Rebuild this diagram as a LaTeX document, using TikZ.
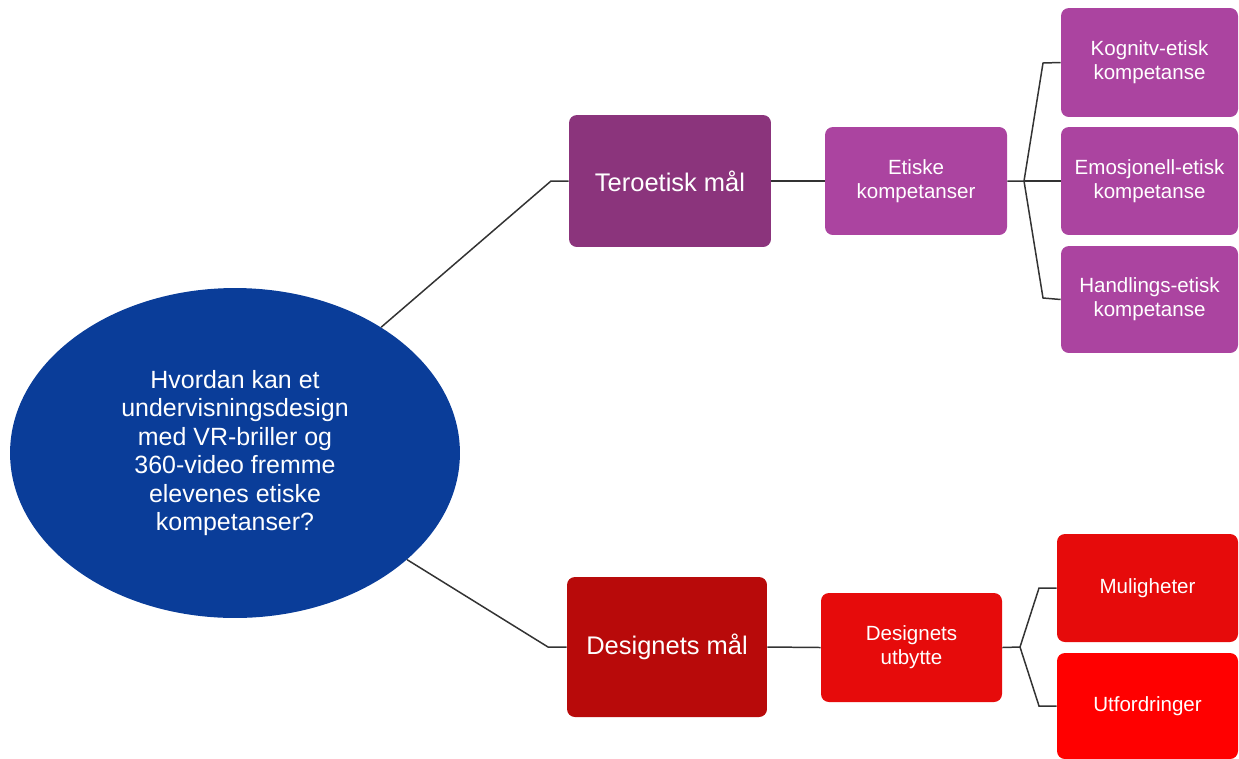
\documentclass[tikz,border=0pt]{standalone}
\usepackage{fontspec}
\setmainfont{Liberation Sans}
\usetikzlibrary{shapes.geometric}
\definecolor{ellblue}{HTML}{0A3D99}
\definecolor{purpdark}{HTML}{8B347C}
\definecolor{purp}{HTML}{AB44A0}
\definecolor{reddark}{HTML}{B80A0A}
\definecolor{redmid}{HTML}{E60B0B}
\definecolor{redbright}{HTML}{FF0000}
\definecolor{linegray}{HTML}{333333}
\tikzset{
  box/.style={rectangle, rounded corners=4.5pt, draw=none, text=white, align=center, inner sep=0pt},
  bigtxt/.style={font=\fontsize{14.5}{16}\selectfont},
  smalltxt/.style={font=\fontsize{11.7}{13.6}\selectfont},
  conn/.style={draw=linegray, line width=0.85pt}
}
\begin{document}
\begin{tikzpicture}[x=0.02cm, y=-0.02cm]
\useasboundingbox (0,0) rectangle (1239,758);
% root
\node[ellipse, fill=ellblue, minimum width=9cm, minimum height=6.6cm, inner sep=0pt, text=white, align=center,
      font=\fontsize{14.2}{16.2}\selectfont] (ell) at (235,453)
  {Hvordan kan et\\undervisningsdesign\\med VR-briller og\\360-video fremme\\elevenes etiske\\kompetanser?};
% top branch
\node[box, bigtxt, fill=purpdark, minimum width=4.04cm, minimum height=2.64cm] (ter) at (670,181) {Teroetisk mål};
\node[box, smalltxt, fill=purp, minimum width=3.64cm, minimum height=2.16cm] (eti) at (916,181) {Etiske\\kompetanser};
\node[box, smalltxt, fill=purp, minimum width=3.54cm, minimum height=2.18cm] (kog) at (1149.5,62.5) {Kognitv-etisk\\kompetanse};
\node[box, smalltxt, fill=purp, minimum width=3.54cm, minimum height=2.16cm] (emo) at (1149.5,181) {Emosjonell-etisk\\kompetanse};
\node[box, smalltxt, fill=purp, minimum width=3.54cm, minimum height=2.14cm] (han) at (1149.5,299.5) {Handlings-etisk\\kompetanse};
% bottom branch
\node[box, bigtxt, fill=reddark, minimum width=4.0cm, minimum height=2.8cm] (des) at (667,647) {Designets mål};
\node[box, smalltxt, fill=redmid, minimum width=3.62cm, minimum height=2.18cm] (utb) at (911.5,647.5) {Designets\\utbytte};
\node[box, smalltxt, fill=redmid, minimum width=3.62cm, minimum height=2.16cm] (mul) at (1147.5,588) {Muligheter};
\node[box, smalltxt, fill=redbright, minimum width=3.62cm, minimum height=2.12cm] (utf) at (1147.5,706) {Utfordringer};
% connector coordinates
\coordinate (c1) at (551,181);
\coordinate (c2) at (548,647);
\coordinate (j1) at (1024,181);
\coordinate (k1) at (1043,63);
\coordinate (k2) at (1043,298);
\coordinate (j2) at (1020,647);
\coordinate (m1) at (1039,588);
\coordinate (m2) at (1039,706);
% connectors
\draw[conn] (ell) -- (c1) -- (ter.west);
\draw[conn] (ell) -- (c2) -- (des.west);
\draw[conn] (ter.east) -- (eti.west);
\draw[conn] (des.east) -- (utb.west);
\draw[conn] (eti.east) -- (j1) -- (k1) -- (kog.west);
\draw[conn] (j1) -- (emo.west);
\draw[conn] (j1) -- (k2) -- (han.west);
\draw[conn] (utb.east) -- (j2) -- (m1) -- (mul.west);
\draw[conn] (j2) -- (m2) -- (utf.west);
\end{tikzpicture}
\end{document}
